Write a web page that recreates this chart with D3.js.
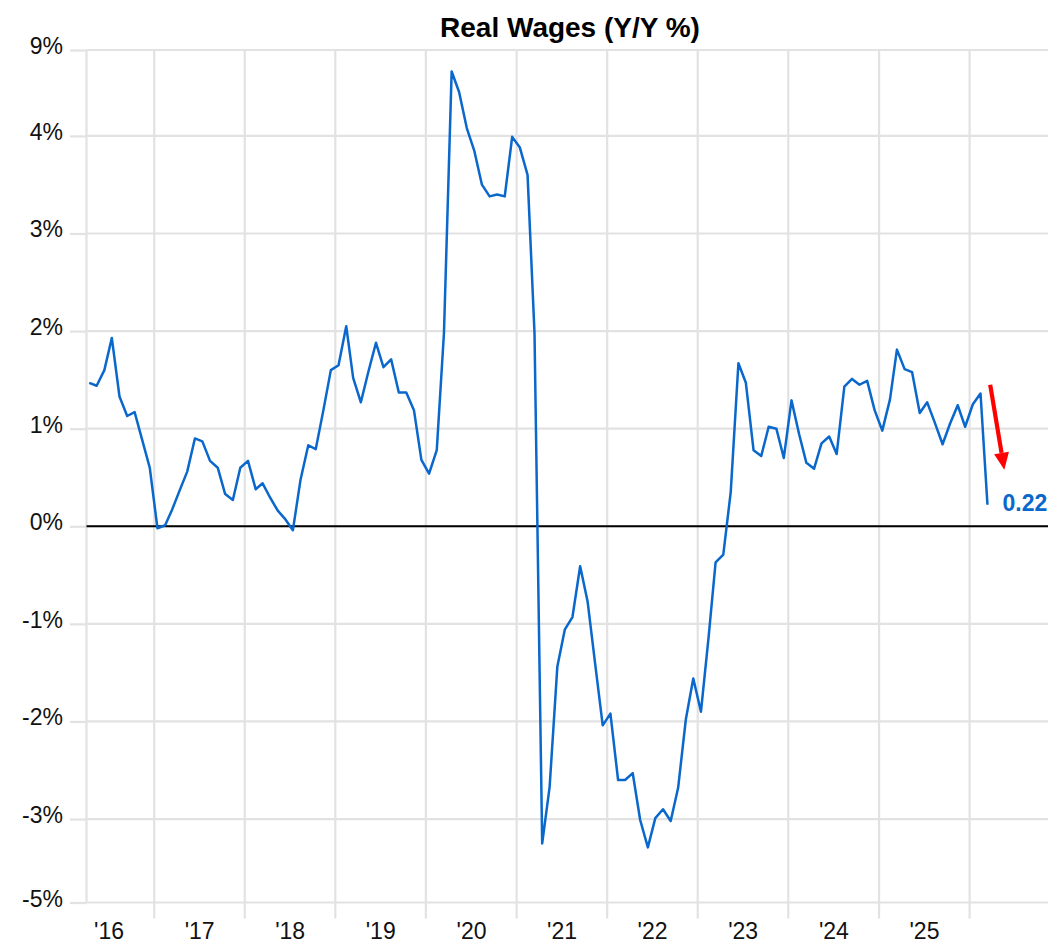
<!DOCTYPE html>
<html>
<head>
<meta charset="utf-8">
<script src="https://cdn.jsdelivr.net/npm/d3@7"></script>
<style>
  html, body { margin: 0; padding: 0; background: #ffffff; }
  svg { display: block; }
  text { font-family: "Liberation Sans", Arial, Helvetica, sans-serif; }
</style>
</head>
<body>
<svg id="chart" width="1048" height="946"></svg>
<script>
// ---------- DATA ----------
const title = "Real Wages (Y/Y %)";
const startYear = 2016, startMonth = 3; // April 2016 (0-based month)
const values = [
  // 2016 Apr-Dec
  1.47, 1.44, 1.60, 1.93, 1.33, 1.13, 1.17, 0.88, 0.60,
  // 2017
  -0.02, 0.01, 0.17, 0.37, 0.56, 0.90, 0.87, 0.67, 0.60, 0.33, 0.27, 0.60,
  // 2018
  0.67, 0.38, 0.44, 0.29, 0.16, 0.07, -0.04, 0.48, 0.83, 0.79, 1.19, 1.60,
  // 2019
  1.65, 2.05, 1.52, 1.27, 1.58, 1.88, 1.63, 1.71, 1.37, 1.37, 1.19, 0.68,
  // 2020
  0.54, 0.78, 1.98, 4.66, 4.45, 4.08, 3.85, 3.50, 3.38, 3.40, 3.38, 3.99,
  // 2021
  3.88, 3.60, 1.98, -3.25, -2.67, -1.44, -1.06, -0.93, -0.41, -0.77, -1.42, -2.04,
  // 2022
  -1.92, -2.60, -2.60, -2.53, -3.01, -3.29, -2.99, -2.90, -3.02, -2.68, -1.98, -1.56,
  // 2023
  -1.90, -1.13, -0.37, -0.29, 0.35, 1.67, 1.47, 0.78, 0.72, 1.02, 1.00, 0.70,
  // 2024
  1.29, 0.94, 0.65, 0.59, 0.85, 0.92, 0.74, 1.43, 1.51, 1.45, 1.49, 1.19,
  // 2025
  0.98, 1.30, 1.81, 1.61, 1.58, 1.16, 1.27, 1.06, 0.84, 1.05, 1.24, 1.02,
  // 2026 Jan-Mar
  1.25, 1.36, 0.22
];
const yTickValues = [4.88, 4, 3, 2, 1, 0, -1, -2, -3, -3.855];
const yTickLabels = ["9%", "4%", "3%", "2%", "1%", "0%", "-1%", "-2%", "-3%", "-5%"];
const xYears = [2016, 2017, 2018, 2019, 2020, 2021, 2022, 2023, 2024, 2025];
const xTickLabels = ["'16", "'17", "'18", "'19", "'20", "'21", "'22", "'23", "'24", "'25"];
const gridYears = [2017, 2018, 2019, 2020, 2021, 2022, 2023, 2024, 2025, 2026];
// annotation arrow (date, value) start -> end
const arrowStart = { date: new Date(2026, 2, 25), value: 1.45 };
const arrowEnd = { date: new Date(2026, 4, 21), value: 0.58 };

// ---------- LAYOUT ----------
const plotLeft = 86.5, plotRight = 1048, plotTop = 50, plotBottom = 902.5;
const lineColor = "#0a67cc";
const gridColor = "#e2e2e2";

const data = values.map((v, i) => ({
  date: new Date(startYear, startMonth + i, 14),
  value: v
}));

const x = d3.scaleTime()
  .domain([new Date(2016, 3, 3), new Date(2026, 10, 13)])
  .range([plotLeft, plotRight]);
const y = d3.scaleLinear()
  .domain([-3.855, 4.88])
  .range([plotBottom, plotTop]);

const svg = d3.select("#chart");

// horizontal gridlines
svg.append("g").selectAll("line")
  .data(yTickValues)
  .join("line")
  .attr("x1", plotLeft).attr("x2", plotRight)
  .attr("y1", d => y(d)).attr("y2", d => y(d))
  .attr("stroke", gridColor).attr("stroke-width", 2.2);

// vertical gridlines at year starts (extend below plot as ticks)
svg.append("g").selectAll("line")
  .data(gridYears)
  .join("line")
  .attr("x1", d => x(new Date(d, 0, 1))).attr("x2", d => x(new Date(d, 0, 1)))
  .attr("y1", plotTop).attr("y2", plotBottom + 16)
  .attr("stroke", gridColor).attr("stroke-width", 2.2);

// left axis line
svg.append("line")
  .attr("x1", plotLeft).attr("x2", plotLeft)
  .attr("y1", plotTop).attr("y2", plotBottom)
  .attr("stroke", gridColor).attr("stroke-width", 2.2);

// y axis (stubs + labels)
const yAxis = d3.axisLeft(y)
  .tickValues(yTickValues)
  .tickFormat((d, i) => yTickLabels[i])
  .tickSize(16.5)
  .tickPadding(7);
const gy = svg.append("g")
  .attr("transform", `translate(${plotLeft},0)`)
  .call(yAxis);
gy.select(".domain").remove();
gy.selectAll(".tick line").attr("stroke", gridColor).attr("stroke-width", 2.2);
gy.selectAll(".tick text")
  .attr("font-size", 23)
  .attr("fill", "#111")
  .attr("dy", "3.5px")
  .style("font-family", '"Liberation Sans", Arial, sans-serif');

// x axis labels at mid-year
const xAxis = d3.axisBottom(x)
  .tickValues(xYears.map(yy => new Date(yy, 6, 1)))
  .tickFormat((d, i) => xTickLabels[i])
  .tickSize(0)
  .tickPadding(0);
const gx = svg.append("g")
  .attr("transform", `translate(0,${plotBottom})`)
  .call(xAxis);
gx.select(".domain").remove();
gx.selectAll(".tick text")
  .attr("font-size", 23)
  .attr("fill", "#111")
  .attr("y", 36.5)
  .attr("dy", 0)
  .style("font-family", '"Liberation Sans", Arial, sans-serif');

// zero line
svg.append("line")
  .attr("x1", plotLeft).attr("x2", plotRight)
  .attr("y1", y(0)).attr("y2", y(0))
  .attr("stroke", "#000").attr("stroke-width", 2.2);

// data line
const line = d3.line()
  .x(d => x(d.date))
  .y(d => y(d.value));
svg.append("path")
  .datum(data)
  .attr("fill", "none")
  .attr("stroke", lineColor)
  .attr("stroke-width", 2.5)
  .attr("stroke-linejoin", "round")
  .attr("d", line);

// red arrow annotation
const ax1 = x(arrowStart.date), ay1 = y(arrowStart.value);
const ax2 = x(arrowEnd.date), ay2 = y(arrowEnd.value);
const ang = Math.atan2(ay2 - ay1, ax2 - ax1);
const headLen = 17, headHalf = 7.5;
const bx = ax2 - headLen * Math.cos(ang), by = ay2 - headLen * Math.sin(ang);
svg.append("line")
  .attr("x1", ax1).attr("y1", ay1)
  .attr("x2", bx).attr("y2", by)
  .attr("stroke", "#ff0000").attr("stroke-width", 4.2);
svg.append("path")
  .attr("d", d3.line()([
    [ax2, ay2],
    [bx + headHalf * Math.sin(ang), by - headHalf * Math.cos(ang)],
    [bx - headHalf * Math.sin(ang), by + headHalf * Math.cos(ang)]
  ]) + "Z")
  .attr("fill", "#ff0000");

// last value label
const last = data[data.length - 1];
svg.append("text")
  .attr("x", x(last.date) + 15)
  .attr("y", y(last.value) + 6)
  .attr("font-size", 23)
  .attr("font-weight", "bold")
  .attr("fill", lineColor)
  .text(d3.format(".2f")(last.value));

// title
svg.append("text")
  .attr("x", 570)
  .attr("y", 37)
  .attr("text-anchor", "middle")
  .attr("font-size", 28)
  .attr("font-weight", "bold")
  .attr("fill", "#000")
  .text(title);
</script>
</body>
</html>
